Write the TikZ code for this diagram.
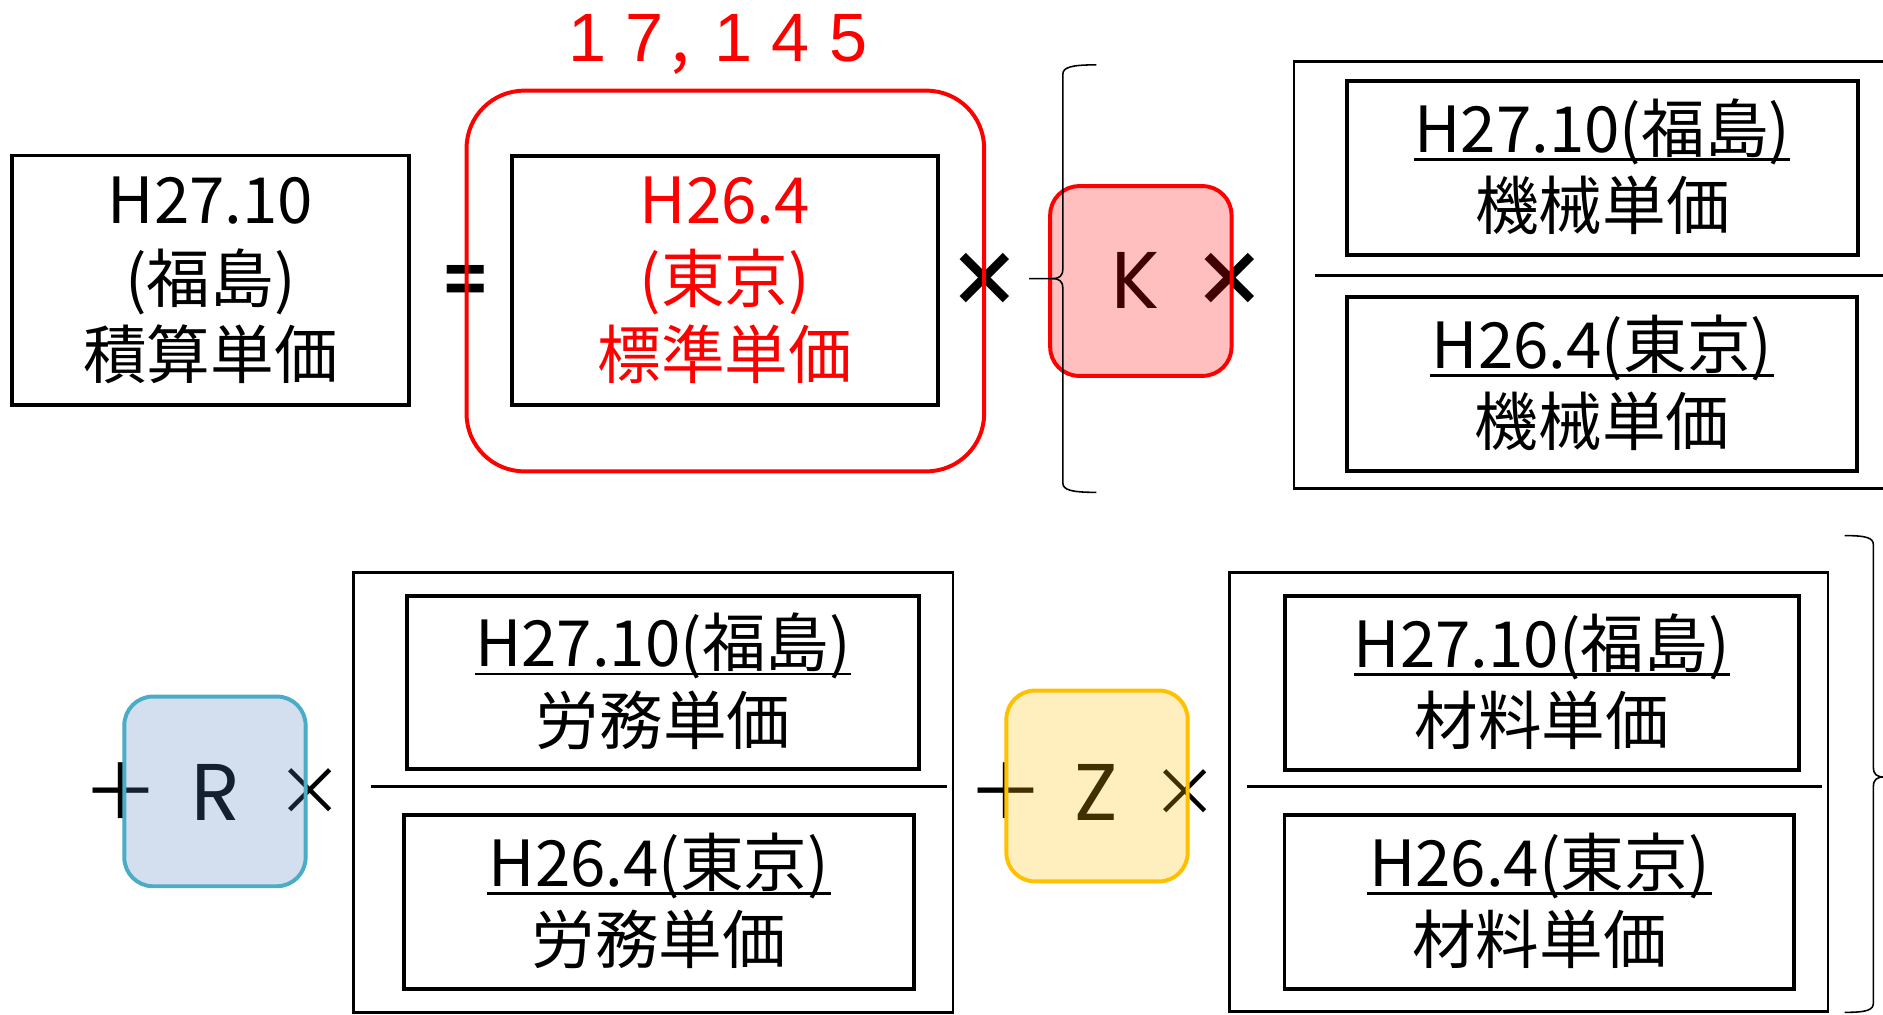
\documentclass[tikz,border=0pt]{standalone}
\usepackage{fontspec}
\usepackage{tikz}
\usetikzlibrary{calc}
\usetikzlibrary{arrows, shapes}

\newfontfamily\jpfont{Noto Sans CJK JP}
\newfontfamily\commafont{Noto Sans CJK JP}[CharacterWidth=Half]
\newfontfamily\letterfont{Poppins}
\newfontfamily\numfont{Liberation Sans}[LetterSpace=28]

\definecolor{coefblue}{HTML}{4F81BD}
\definecolor{coefaqua}{HTML}{4BACC6}
\definecolor{coefgold}{HTML}{FFC000}

\begin{document}
\begin{tikzpicture}[x = 1pt, y = -1pt]

\tikzstyle{box_thick}=[rectangle, draw = black, line width = 3.3pt, inner sep = 0pt, outer sep = 0pt]
\tikzstyle{box_thin}=[rectangle, draw = black, line width = 2.2pt, inner sep = 0pt, outer sep = 0pt]
\tikzstyle{txt_jp}=[inner sep = 0pt, anchor = base, font = \jpfont\fontsize{53}{60}\selectfont]
\tikzstyle{txt_mul_b}=[inner sep = 0pt, font = \jpfont\bfseries\fontsize{62}{66}\selectfont]
\tikzstyle{txt_mul}=[inner sep = 0pt, font = \jpfont\fontsize{56}{60}\selectfont]
\tikzstyle{txt_plus}=[inner sep = 0pt, font = \jpfont\fontsize{64}{70}\selectfont]
\tikzstyle{txt_eq}=[inner sep = 0pt, font = \jpfont\bfseries\fontsize{58}{60}\selectfont]
\tikzstyle{txt_coef}=[inner sep = 0pt, anchor = base, font = \letterfont\fontsize{67}{70}\selectfont]
\tikzstyle{txt_val}=[inner sep = 0pt, anchor = base west, text = red, font = \fontsize{57}{60}\selectfont]
\tikzstyle{coef_box}=[rectangle, rounded corners = 24pt, line width = 3.3pt, fill opacity = 0.25, minimum width = 151pt, minimum height = 158pt]
\tikzstyle{under_line}=[line width = 2.2pt]
\tikzstyle{div_line}=[line width = 2.5pt]
\tikzstyle{brace_line}=[line width = 1.3pt]

\useasboundingbox (0, 0) rectangle (1568, 845);
\clip (0, 0) rectangle (1568, 845);

\coordinate (V) at (473, 51.4);
\coordinate (B1) at (175.4, 233.5);
\coordinate (B2) at (603.7, 233.5);
\coordinate (M) at (1338.75, 229);
\coordinate (L) at (544, 660);
\coordinate (S) at (1272.9, 659.6);

% operators and coefficients (under the boxes)
\path
(388, 237.6) node[txt_eq](eq) {=}
(820, 233) node[txt_mul_b](x1) {×}
(946, 257) node[txt_coef](k) {K}
(1024, 233) node[txt_mul_b](x2) {×}
(100.5, 659) node[txt_plus](p1) {＋}
(180, 683) node[txt_coef](r) {R}
(258, 659.5) node[txt_mul](x3) {×}
(838, 659) node[txt_plus](p2) {＋}
(912.5, 683) node[txt_coef](z) {Z}
(987, 660) node[txt_mul](x4) {×};

% left hand side
\path
(B1) node[box_thick, minimum width = 331pt, minimum height = 208pt](tot) {}
($(B1) + (0, -47.5)$) node[txt_jp](tot_a) {H27.10}
($(B1) + (0, 18.5)$) node[txt_jp](tot_b) {(福島)}
($(B1) + (0, 81.5)$) node[txt_jp](tot_c) {積算単価};

% standard price
\path
(B2) node[box_thick, minimum width = 354.5pt, minimum height = 207.6pt](std) {}
($(B2) + (0, -47.5)$) node[txt_jp, red](std_a) {H26.4}
($(B2) + (0, 18.5)$) node[txt_jp, red](std_b) {(東京)}
($(B2) + (0, 81.5)$) node[txt_jp, red](std_c) {標準単価}
(604, 234) node[draw = red, rounded corners = 48pt, line width = 3.3pt, minimum width = 431pt, minimum height = 317pt](hl) {}
(V) node[txt_val](val) {{\numfont 17}{\commafont ，}\kern14pt{\numfont 145}};

% coefficient boxes
\path
(950, 234) node[coef_box, draw = red, fill = red](k_box) {}
(179, 659) node[coef_box, draw = coefaqua, fill = coefblue](r_box) {}
(913.5, 654.5) node[coef_box, draw = coefgold, fill = coefgold, minimum height = 159pt](z_box) {};

% machine
\path
(M) node[box_thin, minimum width = 522.5pt, minimum height = 356pt](m_out) {}
(1334.3, 140.1) node[box_thick, minimum width = 426pt, minimum height = 145pt](m_top) {}
(1334, 320) node[box_thick, minimum width = 424pt, minimum height = 145pt](m_bot) {}
($(m_top.north) + (0, 59)$) node[txt_jp](m_top_a) {H27.10(福島)}
($(m_top.north) + (0, 123.5)$) node[txt_jp](m_top_b) {機械単価}
($(m_bot.north) + (0, 59)$) node[txt_jp](m_bot_a) {H26.4(東京)}
($(m_bot.north) + (0, 123.5)$) node[txt_jp](m_bot_b) {機械単価};

% labour
\path
(L) node[box_thin, minimum width = 499pt, minimum height = 366.6pt](l_out) {}
(552.1, 568.3) node[box_thick, minimum width = 426.2pt, minimum height = 144.5pt](l_top) {}
(548.7, 751.4) node[box_thick, minimum width = 424.5pt, minimum height = 145pt](l_bot) {}
($(l_top.north) + (0, 59)$) node[txt_jp](l_top_a) {H27.10(福島)}
($(l_top.north) + (0, 123.5)$) node[txt_jp](l_top_b) {労務単価}
($(l_bot.north) + (0, 59)$) node[txt_jp](l_bot_a) {H26.4(東京)}
($(l_bot.north) + (0, 123.5)$) node[txt_jp](l_bot_b) {労務単価};

% material
\path
(S) node[box_thin, minimum width = 498.3pt, minimum height = 365.8pt](s_out) {}
(1283.8, 569) node[box_thick, minimum width = 428.3pt, minimum height = 144.8pt](s_top) {}
(1281.9, 751.4) node[box_thick, minimum width = 424.6pt, minimum height = 145pt](s_bot) {}
($(s_top.north) + (0, 59)$) node[txt_jp](s_top_a) {H27.10(福島)}
($(s_top.north) + (0, 123.5)$) node[txt_jp](s_top_b) {材料単価}
($(s_bot.north) + (0, 59)$) node[txt_jp](s_bot_a) {H26.4(東京)}
($(s_bot.north) + (0, 123.5)$) node[txt_jp](s_bot_b) {材料単価};

% underlines
\draw[under_line] ($(m_top.north) + (-156.5, 65.3)$) -- ($(m_top.north) + (156.5, 65.3)$);
\draw[under_line] ($(m_bot.north) + (-143.5, 65.3)$) -- ($(m_bot.north) + (143.5, 65.3)$);
\draw[under_line] ($(l_top.north) + (-156.5, 65.3)$) -- ($(l_top.north) + (156.5, 65.3)$);
\draw[under_line] ($(l_bot.north) + (-143.5, 65.3)$) -- ($(l_bot.north) + (143.5, 65.3)$);
\draw[under_line] ($(s_top.north) + (-156.5, 65.3)$) -- ($(s_top.north) + (156.5, 65.3)$);
\draw[under_line] ($(s_bot.north) + (-143.5, 65.3)$) -- ($(s_bot.north) + (143.5, 65.3)$);

% fraction bars
\draw[div_line] ($(m_out.west) + (17.5, 0.2)$) -- ($(m_out.east) + (10, 0.2)$);
\draw[div_line] ($(l_out.west) + (14.7, -5)$) -- ($(l_out.east) + (-5.3, -5)$);
\draw[div_line] ($(s_out.west) + (14.7, -5)$) -- ($(s_out.east) + (-5, -5)$);

% braces
\draw[brace_line] (913, 54) .. controls (892, 54) and (885, 56) .. (885, 62) -- (885, 224)
  .. controls (885, 230) and (882, 232) .. (876, 232) -- (857, 232);
\draw[brace_line] (876, 232) .. controls (882, 232) and (885, 234) .. (885, 240) -- (885, 402)
  .. controls (885, 408) and (892, 410) .. (913, 410);
\draw[brace_line] (1536, 446) .. controls (1555, 446) and (1560, 448) .. (1560, 454) -- (1560, 639)
  .. controls (1560, 645) and (1563, 647) .. (1569, 647) -- (1595, 647);
\draw[brace_line] (1569, 647) .. controls (1563, 647) and (1560, 649) .. (1560, 655) -- (1560, 835)
  .. controls (1560, 841) and (1555, 843) .. (1536, 843);

\end{tikzpicture}
\end{document}
